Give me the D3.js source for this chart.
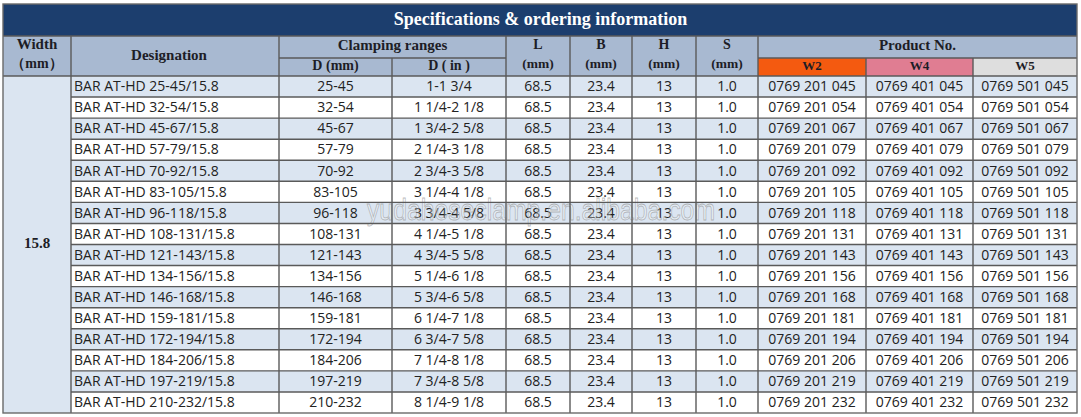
<!DOCTYPE html>
<html>
<head>
<meta charset="utf-8">
<script src="https://cdn.jsdelivr.net/npm/d3@7"></script>
<style>
    body { margin: 0; background: #fff; }
    svg { display: block; }
</style>
</head>
<body>
<div id="sheet"></div>
<script>
// table values
let widthValue = "15.8";
let designation = ["BAR AT-HD 25-45/15.8", "BAR AT-HD 32-54/15.8", "BAR AT-HD 45-67/15.8", "BAR AT-HD 57-79/15.8",
    "BAR AT-HD 70-92/15.8", "BAR AT-HD 83-105/15.8", "BAR AT-HD 96-118/15.8", "BAR AT-HD 108-131/15.8",
    "BAR AT-HD 121-143/15.8", "BAR AT-HD 134-156/15.8", "BAR AT-HD 146-168/15.8", "BAR AT-HD 159-181/15.8",
    "BAR AT-HD 172-194/15.8", "BAR AT-HD 184-206/15.8", "BAR AT-HD 197-219/15.8", "BAR AT-HD 210-232/15.8"];
let dMm = ["25-45", "32-54", "45-67", "57-79", "70-92", "83-105", "96-118", "108-131",
    "121-143", "134-156", "146-168", "159-181", "172-194", "184-206", "197-219", "210-232"];
let dIn = ["1-1 3/4", "1 1/4-2 1/8", "1 3/4-2 5/8", "2 1/4-3 1/8", "2 3/4-3 5/8", "3 1/4-4 1/8", "3 3/4-4 5/8", "4 1/4-5 1/8",
    "4 3/4-5 5/8", "5 1/4-6 1/8", "5 3/4-6 5/8", "6 1/4-7 1/8", "6 3/4-7 5/8", "7 1/4-8 1/8", "7 3/4-8 5/8", "8 1/4-9 1/8"];
let lenL = ["68.5", "68.5", "68.5", "68.5", "68.5", "68.5", "68.5", "68.5", "68.5", "68.5", "68.5", "68.5", "68.5", "68.5", "68.5", "68.5"];
let widB = ["23.4", "23.4", "23.4", "23.4", "23.4", "23.4", "23.4", "23.4", "23.4", "23.4", "23.4", "23.4", "23.4", "23.4", "23.4", "23.4"];
let hgtH = ["13", "13", "13", "13", "13", "13", "13", "13", "13", "13", "13", "13", "13", "13", "13", "13"];
let thkS = ["1.0", "1.0", "1.0", "1.0", "1.0", "1.0", "1.0", "1.0", "1.0", "1.0", "1.0", "1.0", "1.0", "1.0", "1.0", "1.0"];
let prodW2 = ["0769 201 045", "0769 201 054", "0769 201 067", "0769 201 079", "0769 201 092", "0769 201 105", "0769 201 118", "0769 201 131",
    "0769 201 143", "0769 201 156", "0769 201 168", "0769 201 181", "0769 201 194", "0769 201 206", "0769 201 219", "0769 201 232"];
let prodW4 = ["0769 401 045", "0769 401 054", "0769 401 067", "0769 401 079", "0769 401 092", "0769 401 105", "0769 401 118", "0769 401 131",
    "0769 401 143", "0769 401 156", "0769 401 168", "0769 401 181", "0769 401 194", "0769 401 206", "0769 401 219", "0769 401 232"];
let prodW5 = ["0769 501 045", "0769 501 054", "0769 501 067", "0769 501 079", "0769 501 092", "0769 501 105", "0769 501 118", "0769 501 131",
    "0769 501 143", "0769 501 156", "0769 501 168", "0769 501 181", "0769 501 194", "0769 501 206", "0769 501 219", "0769 501 232"];

let titleText = "Specifications & ordering information";
let productKeys = ["W2", "W4", "W5"];

let width = 1081;
let height = 417;

// column edges (layout)
let colEdges = [3, 71, 279, 392, 506, 570, 632, 696, 758, 866, 973, 1077];
let titleTop = 4, head1Top = 36, head2Top = 58, dataTop = 76, dataBottom = 413;

let borderColor = "#5a5a5a";
let headFill = "#a8b9d1";
let blueRow = "#dbe5f1";
let keyFill = {"W2": "#f45a10", "W4": "#e07d92", "W5": "#dedede"};

let svg = d3.select("#sheet").append("svg")
    .attr("width", width)
    .attr("height", height);

let rowY = d3.scaleBand()
    .domain(d3.range(designation.length))
    .range([dataTop, dataBottom]);

let cx = (i) => (colEdges[i] + colEdges[i + 1]) / 2;
let serif = "'Liberation Serif', 'Times New Roman', serif";
let sans = "'Open Sans', 'Noto Sans', sans-serif";

// title bar
svg.append("rect")
    .attr("x", colEdges[0]).attr("y", titleTop)
    .attr("width", colEdges[11] - colEdges[0]).attr("height", head1Top - titleTop)
    .attr("fill", "#1c3e6e");
svg.append("text")
    .attr("x", width / 2).attr("y", (titleTop + head1Top) / 2 + 1)
    .attr("text-anchor", "middle").attr("dominant-baseline", "middle")
    .attr("font-family", serif).attr("font-weight", "bold").attr("font-size", 18)
    .attr("fill", "#fff")
    .text(titleText);

// header background
svg.append("rect")
    .attr("x", colEdges[0]).attr("y", head1Top)
    .attr("width", colEdges[11] - colEdges[0]).attr("height", dataTop - head1Top)
    .attr("fill", headFill);

productKeys.forEach((k, i) => {
    svg.append("rect")
        .attr("x", colEdges[8 + i]).attr("y", head2Top)
        .attr("width", colEdges[9 + i] - colEdges[8 + i]).attr("height", dataTop - head2Top)
        .attr("fill", keyFill[k]);
});

// data row backgrounds
let rows = svg.append("g");
rows.selectAll("rect")
    .data(d3.range(designation.length))
    .enter()
    .append("rect")
    .attr("x", colEdges[1])
    .attr("y", (d) => rowY(d))
    .attr("width", colEdges[11] - colEdges[1])
    .attr("height", rowY.bandwidth())
    .attr("fill", (d) => d % 2 === 0 ? blueRow : "#fff");

// merged width cell
svg.append("rect")
    .attr("x", colEdges[0]).attr("y", dataTop)
    .attr("width", colEdges[1] - colEdges[0]).attr("height", dataBottom - dataTop)
    .attr("fill", blueRow);

// header texts
function headText(x, y, txt, size) {
    svg.append("text")
        .attr("x", x).attr("y", y)
        .attr("text-anchor", "middle").attr("dominant-baseline", "middle")
        .attr("font-family", serif).attr("font-weight", "bold").attr("font-size", size || 15)
        .attr("fill", "#1d1d26")
        .text(txt);
}
headText(cx(0), 46, "Width");
headText(cx(0), 65, "（mm）", 14);
headText(cx(1) - 6, 57, "Designation");
headText((colEdges[2] + colEdges[4]) / 2, 47, "Clamping ranges");
headText(cx(2), 67, "D  (mm)", 14);
headText(cx(3), 67, "D ( in )", 14);
[["L", 4], ["B", 5], ["H", 6], ["S", 7]].forEach((p) => {
    headText(cx(p[1]), 46, p[0], 14);
    headText(cx(p[1]), 65, "(mm)", 13.5);
});
headText((colEdges[8] + colEdges[11]) / 2, 47, "Product No.");
productKeys.forEach((k, i) => headText(cx(8 + i), 67, k, 13));

// width value
headText(cx(0), (dataTop + dataBottom) / 2, widthValue, 15);

// data cells
let columns = [designation, dMm, dIn, lenL, widB, hgtH, thkS, prodW2, prodW4, prodW5];
let cells = svg.append("g")
    .attr("font-family", sans).attr("font-size", 14)
    .attr("fill", "#222");
columns.forEach((col, ci) => {
    cells.selectAll(".c" + ci)
        .data(col)
        .enter()
        .append("text")
        .attr("class", "c" + ci)
        .attr("x", ci === 0 ? colEdges[1] + 3 : cx(ci + 1))
        .attr("y", (d, i) => rowY(i) + rowY.bandwidth() / 2 + 1)
        .attr("text-anchor", ci === 0 ? "start" : "middle")
        .attr("dominant-baseline", "middle")
        .text((d) => d);
});

// watermark, drawn over the cells like in the picture
svg.append("text")
    .attr("x", 367).attr("y", 220)
    .attr("font-family", "'Liberation Sans', sans-serif").attr("font-size", 30)
    .attr("textLength", 348).attr("lengthAdjust", "spacingAndGlyphs")
    .attr("fill", "#ffffff").attr("fill-opacity", 0.3)
    .attr("stroke", "#8c8c8c").attr("stroke-opacity", 0.6).attr("stroke-width", 0.8)
    .text("yudahoseclamp.en.alibaba.com");

// grid lines
let grid = svg.append("g")
    .attr("stroke", borderColor).attr("stroke-width", 1.4).attr("fill", "none");

// horizontal lines across data rows
grid.selectAll(".hrow")
    .data(d3.range(1, designation.length))
    .enter()
    .append("line")
    .attr("x1", colEdges[1]).attr("x2", colEdges[11])
    .attr("y1", (d) => rowY(d)).attr("y2", (d) => rowY(d));

grid.append("line").attr("x1", colEdges[0]).attr("x2", colEdges[11]).attr("y1", head1Top).attr("y2", head1Top);
grid.append("line").attr("x1", colEdges[0]).attr("x2", colEdges[11]).attr("y1", dataTop).attr("y2", dataTop);
grid.append("line").attr("x1", colEdges[2]).attr("x2", colEdges[4]).attr("y1", head2Top).attr("y2", head2Top);
grid.append("line").attr("x1", colEdges[8]).attr("x2", colEdges[11]).attr("y1", head2Top).attr("y2", head2Top);

// vertical lines
colEdges.slice(1, 11).forEach((x, i) => {
    let idx = i + 1;
    let top = head1Top;
    if (idx === 3 || idx === 9 || idx === 10) top = head2Top;
    grid.append("line").attr("x1", x).attr("x2", x).attr("y1", top).attr("y2", dataBottom);
});

// outer border
grid.append("rect")
    .attr("x", colEdges[0]).attr("y", titleTop)
    .attr("width", colEdges[11] - colEdges[0]).attr("height", dataBottom - titleTop)
    .attr("stroke", "#6a6a6a");
</script>
</body>
</html>
